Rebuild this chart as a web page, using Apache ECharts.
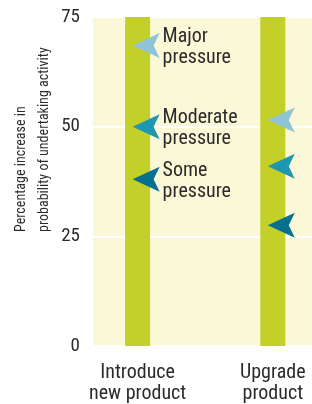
<!DOCTYPE html>
<html>
<head>
<meta charset="utf-8">
<script src="https://cdn.jsdelivr.net/npm/echarts@6/dist/echarts.min.js"></script>
<style>
  html, body { margin: 0; padding: 0; background: #fff; }
  #chart { width: 312px; height: 404px; }
</style>
</head>
<body>
<div id="chart"></div>
<script>
// chart data
var categories = ['Introduce\nnew product', 'Upgrade\nproduct']
var barTops = [75, 75]
var majorPressure = [68.5, 51.5]
var moderatePressure = [50, 41]
var somePressure = [38, 27.5]
var yTicks = [0, 25, 50, 75]

var FONT = '"Roboto Condensed", "DejaVu Sans Condensed", sans-serif'
var ARROW = 'path://M0,12.5 L27,0 L21,12.5 L27,25 Z'

var chart = echarts.init(document.getElementById('chart'))

function arrowSeries(name, values, color) {
  return {
    name: name,
    type: 'scatter',
    symbol: ARROW,
    symbolSize: [27, 25],
    symbolOffset: [8.5, 0],
    itemStyle: { color: color, opacity: 1 },
    label: {
      position: 'right',
      distance: 3,
      offset: [0, 2],
      formatter: '{a}\npressure',
      color: '#2b2b2b',
      fontFamily: FONT,
      fontSize: 20,
      lineHeight: 21
    },
    emphasis: { disabled: true },
    data: values.map(function (v, i) {
      return { value: [i, v], label: { show: i === 0 } }
    }),
    z: 3
  }
}

chart.setOption({
  animation: false,
  grid: {
    left: 93,
    right: 0,
    top: 17,
    bottom: 57,
    show: true,
    backgroundColor: '#fbf8d8',
    borderWidth: 0
  },
  xAxis: {
    type: 'value',
    min: -0.33,
    max: 1.29,
    axisLine: { show: false },
    axisTick: { show: false },
    splitLine: { show: false },
    axisLabel: {
      customValues: [0, 1],
      formatter: function (v) { return categories[Math.round(v)] },
      margin: 16,
      color: '#2b2b2b',
      fontFamily: FONT,
      fontSize: 20,
      lineHeight: 21
    }
  },
  yAxis: {
    type: 'value',
    min: yTicks[0],
    max: yTicks[yTicks.length - 1],
    interval: 25,
    axisLine: { show: false },
    axisTick: { show: false },
    splitLine: { lineStyle: { color: '#ffffff', width: 2 } },
    axisLabel: {
      margin: 13,
      color: '#2b2b2b',
      fontFamily: FONT,
      fontSize: 19
    }
  },
  graphic: [{
    type: 'text',
    x: 33,
    y: 232,
    rotation: Math.PI / 2,
    style: {
      text: 'Percentage increase in\nprobability of undertaking activity',
      fill: '#2b2b2b',
      font: '14px ' + FONT,
      lineHeight: 23,
      align: 'left',
      verticalAlign: 'middle'
    }
  }],
  series: [
    {
      type: 'bar',
      barWidth: 25,
      itemStyle: { color: '#c3d02a' },
      emphasis: { disabled: true },
      data: barTops.map(function (v, i) { return [i, v] }),
      z: 2
    },
    arrowSeries('Major', majorPressure, '#8ec4d6'),
    arrowSeries('Moderate', moderatePressure, '#1f96b2'),
    arrowSeries('Some', somePressure, '#05708f')
  ]
})
</script>
</body>
</html>
